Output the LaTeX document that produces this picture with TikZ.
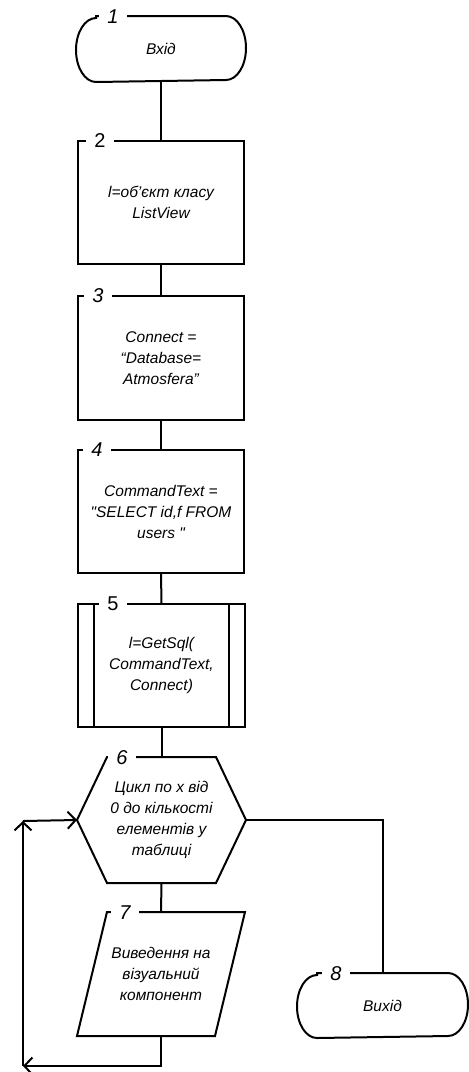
\documentclass[tikz,border=0pt]{standalone}
\usepackage{fontspec}
\setmainfont{Liberation Sans}[Ligatures=TeXOff]
\usetikzlibrary{arrows.meta}
\begin{document}
\begin{tikzpicture}[x=1pt, y=-1pt,
  line width=2pt,
  body/.style={align=center, font=\fontsize{15.5}{21}\selectfont\itshape, inner sep=0pt},
  blk/.style={body, draw, minimum width=166pt, minimum height=123pt},
  frame/.style={body, minimum width=#1},
  num/.style={fill=white, font=\fontsize{20}{20}\selectfont\itshape, inner xsep=8pt, inner ysep=1pt},
  numup/.style={num, font=\fontsize{20}{20}\selectfont},
  backarrow/.style={-{Straight Barb[length=8pt,width=17pt]}}
]
\useasboundingbox (0,0) rectangle (469,1072);

% --- blocks ---
\node[frame=168pt, minimum height=64pt] (t1) at (161,49) {Вхід};
\draw ([xshift=20pt]t1.north west) -- ([xshift=-20pt]t1.north east)
  arc[start angle=-90, end angle=90, x radius=20, y radius=32]
  -- ([xshift=20pt]t1.south west)
  arc[start angle=90, end angle=270, x radius=20, y radius=32] -- cycle;

\node[blk] (b2) at (161,202.5) {l=об’єкт класу\\ListView};
\node[blk, minimum height=124pt] (b3) at (161,358) {Connect =\\“Database=\\Atmosfera”};
\node[blk] (b4) at (161,511.5) {CommandText =\\"SELECT id,f FROM\\users "};
\node[blk, minimum width=167pt] (b5) at (161.5,665.5) {l=GetSql(\\CommandText,\\Connect)};
\draw ([xshift=17pt]b5.north west) -- ([xshift=17pt]b5.south west);
\draw ([xshift=-17pt]b5.north east) -- ([xshift=-17pt]b5.south east);

\node[frame=167pt, minimum height=124pt] (h6) at (161.5,820)
  {Цикл по x від\\0 до кількості\\елементів у\\таблиці};
\draw ([xshift=30pt]h6.north west) -- ([xshift=-30pt]h6.north east) -- (h6.east)
  -- ([xshift=-30pt]h6.south east) -- ([xshift=30pt]h6.south west) -- (h6.west) -- cycle;

\node[frame=166pt, minimum height=122pt] (p7) at (161,974)
  {Виведення на\\візуальний\\компонент};
\draw ([xshift=30pt]p7.north west) -- (p7.north east)
  -- ([xshift=-30pt]p7.south east) -- (p7.south west) -- cycle;

\node[frame=169pt, minimum height=63pt] (t8) at (382.5,1005.5) {Вихід};
\draw ([xshift=20pt]t8.north west) -- ([xshift=-20pt]t8.north east)
  arc[start angle=-90, end angle=90, x radius=20, y radius=31.5]
  -- ([xshift=20pt]t8.south west)
  arc[start angle=90, end angle=270, x radius=20, y radius=31.5] -- cycle;

% --- connectors ---
\draw (t1.south) -- (b2.north);
\draw (b2.south) -- (b3.north);
\draw (b3.south) -- (b4.north);
\draw (b4.south) -- (b5.north);
\draw (b5.south) -- (h6.north);
\draw (h6.south) -- (p7.north);
\draw (h6.east) -| (t8.north);

\coordinate (lb) at (23,1066);
\coordinate (lt) at (23,821);
\draw[backarrow] (p7.south) |- (lb);
\draw[backarrow] (lb) -- (lt);
\draw[backarrow] (lt) -- (h6.west);

% --- block numbers ---
\node[num] (n1) at (113,17) {1};
\node[numup] (n2) at (100,141) {2};
\node[num] (n3) at (98,296) {3};
\node[num] (n4) at (97,450) {4};
\node[numup] (n5) at (113,604) {5};
\node[num] (n6) at (122,758) {6};
\node[num] (n7) at (125,913) {7};
\node[num] (n8) at (336,974) {8};
\end{tikzpicture}
\end{document}
